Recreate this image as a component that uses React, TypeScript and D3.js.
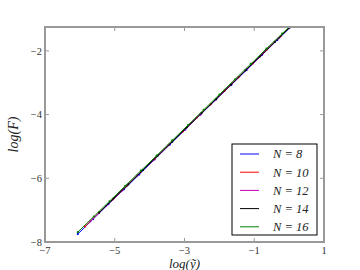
import * as d3 from "d3";

const WIDTH = 360;
const HEIGHT = 270;
const MARGIN = { top: 27, right: 36, bottom: 28, left: 45 };

// log(ỹ) / log(F) pairs, one list per N
const n8X = [-6.06, -5.62, -5.18, -4.74, -4.3, -3.86, -3.42, -2.98, -2.54, -2.1, -1.66, -1.22, -0.78, -0.34, 0.1];
const n8F = [-7.75, -7.28, -6.81, -6.35, -5.88, -5.41, -4.94, -4.47, -4.0, -3.53, -3.07, -2.6, -2.13, -1.66, -1.19];

const n10X = [-5.85, -5.45, -5.05, -4.65, -4.25, -3.85, -3.45, -3.05, -2.65, -2.25, -1.85, -1.45, -1.05, -0.65, -0.25, 0.15];
const n10F = [-7.51, -7.08, -6.66, -6.23, -5.8, -5.38, -4.95, -4.53, -4.1, -3.68, -3.25, -2.83, -2.4, -1.97, -1.55, -1.12];

const n12X = [-5.7, -5.25, -4.8, -4.35, -3.9, -3.45, -3.0, -2.55, -2.1, -1.65, -1.2, -0.75, -0.3, 0.15];
const n12F = [-7.35, -6.87, -6.39, -5.91, -5.43, -4.95, -4.47, -4.0, -3.52, -3.04, -2.56, -2.08, -1.6, -1.12];

const n14X = [-5.45, -5.03, -4.61, -4.19, -3.77, -3.35, -2.93, -2.51, -2.09, -1.67, -1.25, -0.83, -0.41, 0.01, 0.2];
const n14F = [-7.08, -6.63, -6.19, -5.74, -5.29, -4.85, -4.4, -3.95, -3.51, -3.06, -2.61, -2.17, -1.72, -1.27, -1.07];

const n16X = [-6.06, -5.6, -5.15, -4.7, -4.25, -3.8, -3.35, -2.9, -2.45, -2.0, -1.55, -1.1, -0.65, -0.2, 0.2];
const n16F = [-7.69, -7.2, -6.72, -6.24, -5.76, -5.29, -4.81, -4.33, -3.85, -3.37, -2.89, -2.41, -1.93, -1.46, -1.03];

const labels = ["N = 8", "N = 10", "N = 12", "N = 14", "N = 16"];
const colors = ["#0000ff", "#ff0000", "#bf00bf", "#000000", "#008000"];
const seriesX = [n8X, n10X, n12X, n14X, n16X];
const seriesF = [n8F, n10F, n12F, n14F, n16F];

const xTicks = [-7, -5, -3, -1, 1];
const yTicks = [-8, -6, -4, -2];

const fmt = (v: number) => (v < 0 ? "\u2212" + Math.abs(v) : String(v));

export default function App() {
  const bw = WIDTH - MARGIN.left - MARGIN.right;
  const bh = HEIGHT - MARGIN.top - MARGIN.bottom;

  const x = d3.scaleLinear().domain([-7, 1]).range([0, bw]);
  const y = d3.scaleLinear().domain([-8, -1.25]).range([bh, 0]);

  const line = d3
    .line<[number, number]>()
    .x((d) => x(d[0]))
    .y((d) => y(d[1]));

  const series = seriesX.map((xs, i) => xs.map((v, j) => [v, seriesF[i][j]] as [number, number]));

  const spine = "#999";
  const serif = "'Liberation Serif', serif";

  return (
    <svg width={WIDTH} height={HEIGHT} style={{ position: "fixed", left: 0, top: 0 }}>
      <rect width={WIDTH} height={HEIGHT} fill="white" />
      <defs>
        <clipPath id="plot">
          <rect width={bw} height={bh} />
        </clipPath>
      </defs>
      <g transform={`translate(${MARGIN.left},${MARGIN.top})`}>
        <g clipPath="url(#plot)">
          {series.map((pts, i) => (
            <g key={i}>
              <path d={line(pts) ?? ""} fill="none" stroke={colors[i]} strokeWidth={1} />
              {pts.map((p, j) => (
                <circle key={j} cx={x(p[0])} cy={y(p[1])} r={1.1} fill={colors[i]} />
              ))}
            </g>
          ))}
        </g>

        {/* ticks, matplotlib style: inside, on all four sides */}
        {xTicks.map((t) => (
          <g key={"x" + t} transform={`translate(${x(t)},0)`}>
            <line y1={bh} y2={bh - 4} stroke={spine} />
            <line y1={0} y2={4} stroke={spine} />
            <text y={bh + 12} textAnchor="middle" fontSize={10.5} fontFamily={serif} fill="#333">
              {fmt(t)}
            </text>
          </g>
        ))}
        {yTicks.map((t) => (
          <g key={"y" + t} transform={`translate(0,${y(t)})`}>
            <line x1={0} x2={4} stroke={spine} />
            <line x1={bw} x2={bw - 4} stroke={spine} />
            <text x={-3} dy="0.35em" textAnchor="end" fontSize={10.5} fontFamily={serif} fill="#333">
              {fmt(t)}
            </text>
          </g>
        ))}

        <rect width={bw} height={bh} fill="none" stroke={spine} strokeWidth={2} />

        {/* legend */}
        <g transform={`translate(${bw - 92},${bh - 98})`}>
          <rect width={85} height={91} fill="white" stroke="#000" strokeWidth={1} />
          {labels.map((l, i) => (
            <g key={l} transform={`translate(0,${10 + i * 18.2})`}>
              <line x1={8} x2={27} stroke={colors[i]} strokeWidth={1} />
              <text
                x={41}
                dy="0.35em"
                fontSize={12.5}
                fontStyle="italic"
                fontFamily={serif}
                fill="#222"
              >
                {l}
              </text>
            </g>
          ))}
        </g>

        <text
          x={bw / 2}
          y={bh + 25.5}
          textAnchor="middle"
          fontSize={13}
          fontStyle="italic"
          fontFamily={serif}
          fill="#222"
        >
          log(ỹ)
        </text>
        <text
          transform={`translate(${-27},${bh / 2}) rotate(-90)`}
          textAnchor="middle"
          fontSize={14}
          fontStyle="italic"
          fontFamily={serif}
          fill="#222"
        >
          log(F)
        </text>
      </g>
    </svg>
  );
}
